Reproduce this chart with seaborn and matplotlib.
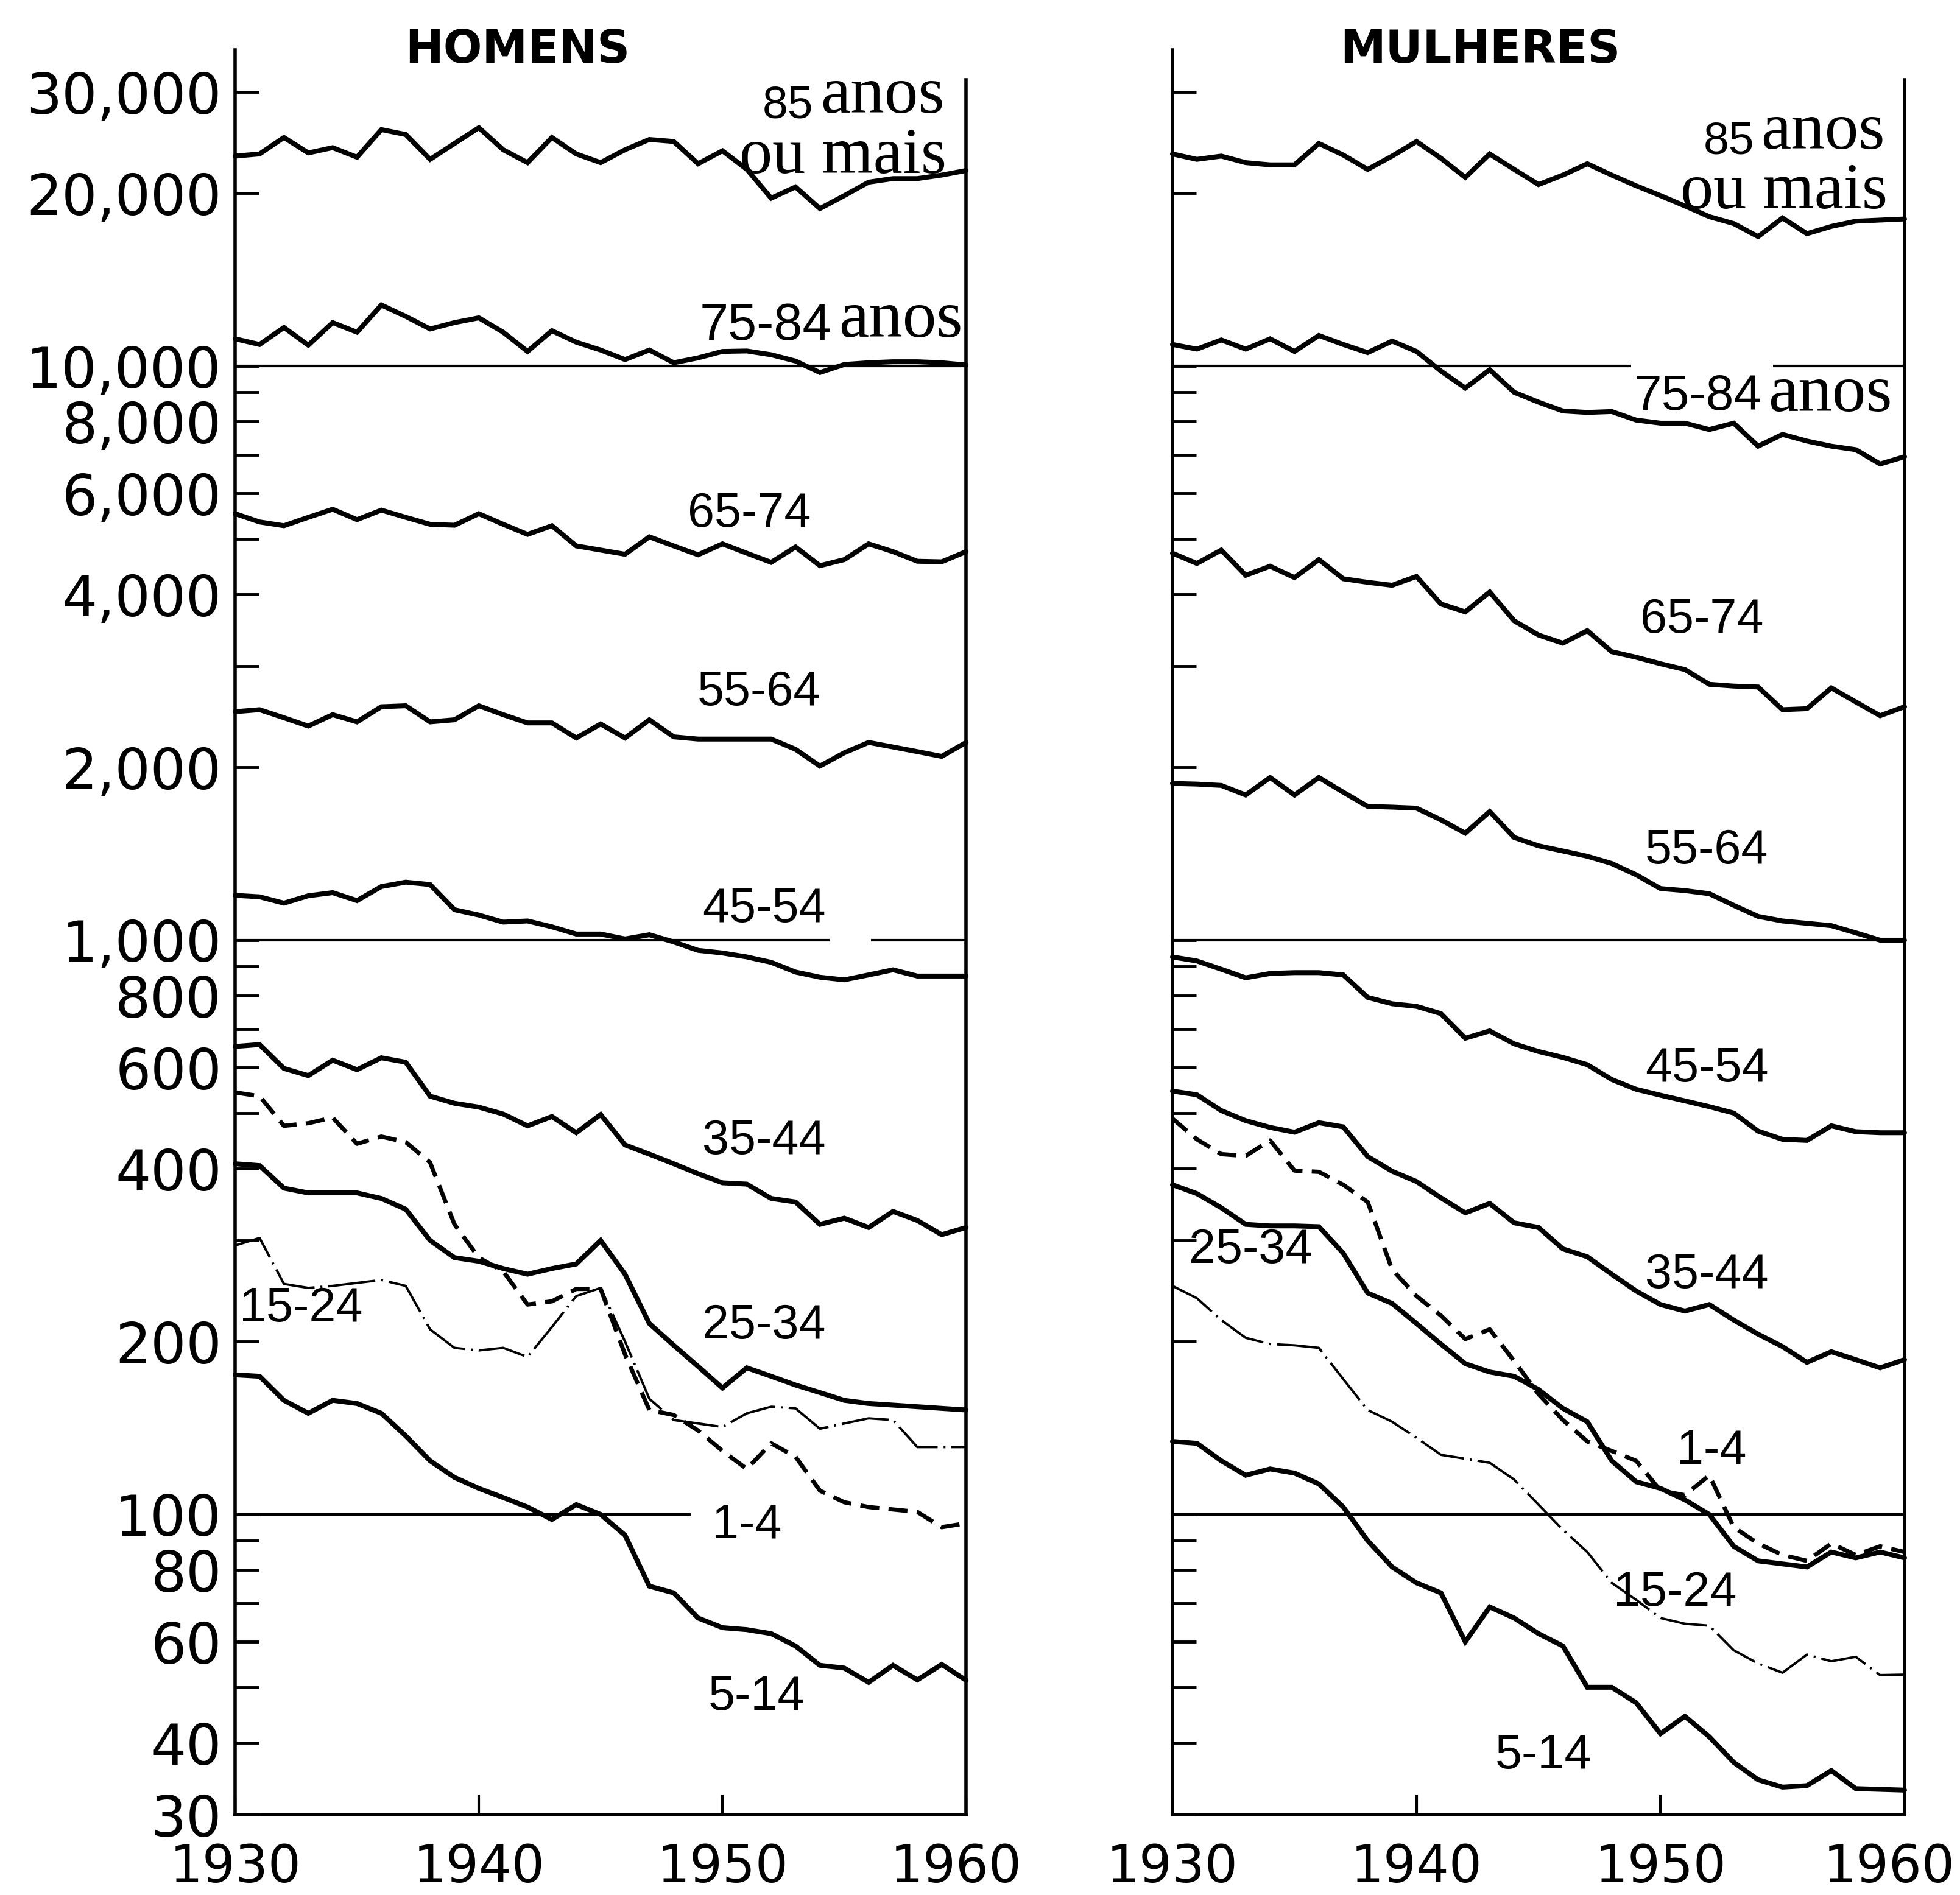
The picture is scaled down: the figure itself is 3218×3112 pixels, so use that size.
import matplotlib
matplotlib.use("Agg")
import matplotlib.pyplot as plt
import matplotlib.transforms as mtransforms
from matplotlib import font_manager
from matplotlib.ticker import FixedLocator, FixedFormatter, NullLocator
import numpy as np
import pandas as pd
import seaborn as sns

# ---------------- data ----------------
years = list(range(1930, 1961))

# HOMENS
m_85 = [23200, 23400, 25000, 23500, 24000, 23100, 25800, 25300, 22900, 24400, 26000,
        23800, 22600, 25000, 23400, 22600, 23800, 24800, 24600, 22500, 23700,
        22000, 19600, 20500, 18800, 19800, 20900, 21200, 21200, 21500, 21900]
m_75 = [11150, 10900, 11670, 10870, 11900, 11450, 12770, 12200, 11600, 11900, 12130,
        11450, 10600, 11520, 11000, 10660, 10260, 10660, 10130, 10330, 10600,
        10620, 10460, 10200, 9740, 10060, 10130, 10170, 10170, 10130, 10040]
m_65 = [5530, 5350, 5270, 5450, 5630, 5400, 5610, 5450, 5300, 5280, 5530,
        5300, 5090, 5270, 4860, 4780, 4700, 5040, 4860, 4690, 4900,
        4720, 4550, 4840, 4490, 4600, 4900, 4750, 4570, 4560, 4750]
m_55 = [2500, 2520, 2440, 2360, 2470, 2400, 2550, 2560, 2400, 2420, 2560,
        2470, 2390, 2390, 2250, 2380, 2250, 2420, 2260, 2240, 2240,
        2240, 2240, 2150, 2010, 2120, 2210, 2170, 2130, 2090, 2210]
m_45 = [1197, 1190, 1160, 1195, 1210, 1172, 1240, 1262, 1250, 1130, 1106,
        1075, 1080, 1055, 1025, 1025, 1005, 1022, 993, 960, 950,
        935, 915, 880, 862, 853, 870, 888, 866, 866, 866]
m_35 = [653, 658, 598, 581, 618, 595, 624, 613, 535, 520, 512,
        498, 475, 493, 462, 497, 440, 424, 408, 392, 378,
        376, 355, 350, 320, 328, 316, 337, 325, 307, 316]
m_25 = [408, 405, 370, 363, 363, 363, 355, 340, 300, 280, 276,
        268, 262, 268, 273, 300, 262, 215, 197, 181, 166,
        180, 174, 168, 163, 158, 156, 155, 154, 153, 152]
m_15 = [294, 303, 252, 248, 250, 253, 256, 250, 210, 195, 193,
        195, 188, 212, 240, 248, 200, 159, 146, 144, 142,
        150, 154, 153, 141, 144, 147, 146, 131, 131, 131]
m_1_4 = [543, 535, 475, 480, 491, 442, 455, 445, 410, 320, 280,
         265, 232, 235, 247, 247, 190, 152, 149, 140, 129,
         120, 133, 126, 110, 105, 103, 102, 101, 95, 96.5]
m_5_14 = [175, 174, 158, 150, 158, 156, 150, 137, 124, 116, 111,
          107, 103, 98, 104, 100, 92, 75, 73, 66, 63.5,
          63, 62, 59, 54.6, 54, 51, 54.6, 51.5, 54.8, 51.4]

# MULHERES
w_85 = [23400, 22900, 23200, 22600, 22400, 22400, 24400, 23300, 22000, 23200, 24600,
        23000, 21300, 23400, 22000, 20700, 21500, 22500, 21500, 20600, 19800,
        19000, 18200, 17700, 16800, 18100, 17000, 17500, 17870, 17950, 18030]
w_75 = [10900, 10700, 11100, 10700, 11150, 10600, 11300, 10900, 10550, 11050, 10600,
        9800, 9150, 9850, 9000, 8650, 8350, 8300, 8330, 8050, 7950,
        7950, 7750, 7950, 7250, 7600, 7400, 7250, 7150, 6750, 6950]
w_65 = [4720, 4530, 4780, 4320, 4480, 4280, 4600, 4260, 4200, 4150, 4300,
        3850, 3730, 4040, 3600, 3400, 3290, 3460, 3180, 3110, 3030,
        2960, 2790, 2770, 2760, 2520, 2530, 2750, 2600, 2460, 2550]
w_55 = [1875, 1870, 1860, 1790, 1920, 1790, 1920, 1810, 1710, 1705, 1698,
        1620, 1536, 1675, 1510, 1460, 1430, 1400, 1360, 1300, 1230,
        1220, 1205, 1150, 1100, 1080, 1070, 1060, 1030, 1000, 1000]
w_45 = [935, 920, 890, 860, 875, 878, 878, 870, 795, 775, 767,
        745, 675, 695, 660, 640, 625, 607, 572, 550, 537,
        525, 513, 500, 465, 450, 448, 475, 464, 462, 462]
w_35 = [546, 538, 505, 485, 472, 463, 481, 473, 420, 396, 380,
        356, 335, 348, 322, 316, 290, 281, 262, 245, 232,
        226, 232, 218, 206, 196, 184, 192, 186, 180, 186]
w_25 = [375, 362, 342, 320, 318, 318, 317, 285, 243, 233, 215,
        198, 183, 177, 174, 165, 153, 145, 124, 114, 111,
        106, 100, 88, 83, 82, 81, 86, 84, 86, 84]
w_15 = [250, 238, 218, 203, 198, 197, 195, 172, 152, 145, 136,
        127, 125, 123, 115, 104, 94, 86, 76, 71, 66,
        64.5, 64, 58, 55, 53, 57, 55.5, 56.5, 52.5, 52.6]
w_1_4 = [489, 450, 424, 421, 448, 397, 395, 375, 350, 267, 240,
         222, 202, 210, 185, 162, 146, 134, 129, 124, 110,
         108, 117, 95, 89, 85, 83, 89, 85, 88, 86]
w_5_14 = [134, 133, 124, 117, 120, 118, 113, 103, 90, 81, 76,
          73, 60, 69, 66, 62, 59, 50, 50, 47, 41.5,
          44.5, 41, 37, 34.5, 33.5, 33.7, 35.8, 33.3, 33.2, 33.1]

series_names = ["85+", "75-84", "65-74", "55-64", "45-54", "35-44",
                "25-34", "15-24", "1-4", "5-14"]
men_values = [m_85, m_75, m_65, m_55, m_45, m_35, m_25, m_15, m_1_4, m_5_14]
women_values = [w_85, w_75, w_65, w_55, w_45, w_35, w_25, w_15, w_1_4, w_5_14]

y_tick_values = [30, 40, 50, 60, 70, 80, 90, 100, 200, 300, 400, 500, 600, 700,
                 800, 900, 1000, 2000, 3000, 4000, 5000, 6000, 7000, 8000, 9000,
                 10000, 20000, 30000]
y_labelled = [30, 40, 60, 80, 100, 200, 400, 600, 800, 1000, 2000, 4000,
              6000, 8000, 10000, 20000, 30000]
x_tick_values = [1930, 1940, 1950, 1960]

panel_titles = ["HOMENS", "MULHERES"]

# reference (grid) lines: value, from-year, to-year
ref_left = [(10000, 1930, 1960), (1000, 1930, 1954.4), (1000, 1956.1, 1960),
            (100, 1930, 1948.7)]
ref_right = [(10000, 1930, 1948.8), (10000, 1954.6, 1960), (1000, 1930, 1960),
             (100, 1930, 1960)]

# ---------------- style ----------------
sns.set_style("white")
plt.rcParams["font.family"] = ["DejaVu Sans"]
for key in ["text.color", "axes.labelcolor", "xtick.color", "ytick.color",
            "axes.edgecolor"]:
    plt.rcParams[key] = "black"

names = {f.name for f in font_manager.fontManager.ttflist}
if "Liberation Sans Narrow" in names:
    NARROW, NARROW_SIZE = "Liberation Sans Narrow", 66
else:
    NARROW, NARROW_SIZE = "Liberation Sans", 57
SERIF = "Liberation Serif" if "Liberation Serif" in names else "DejaVu Serif"

df_rows = []
for panel, vals_list in zip(panel_titles, [men_values, women_values]):
    for name, vals in zip(series_names, vals_list):
        for yr, v in zip(years, vals):
            df_rows.append({"panel": panel, "group": name, "year": yr, "rate": v})
df = pd.DataFrame(df_rows)

def line_style(name):
    if name == "1-4":
        return dict(linewidth=5.0, linestyle=(0, (4.5, 2.2)))
    if name == "15-24":
        return dict(linewidth=2.8, linestyle=(0, (20, 2.5, 0.8, 2.5)))
    return dict(linewidth=5.8, linestyle="-")

fig = plt.figure(figsize=(32.18, 31.12), dpi=100)
axL = fig.add_axes([0.1200, 0.0424, 0.3729, 0.9312])
axR = fig.add_axes([0.5982, 0.0424, 0.3735, 0.9312])

for ax, panel, refs in [(axL, "HOMENS", ref_left), (axR, "MULHERES", ref_right)]:
    ax.set_yscale("log")
    sub = df[df["panel"] == panel]
    for name in series_names:
        d = sub[sub["group"] == name]
        sns.lineplot(data=d, x="year", y="rate", ax=ax, color="black",
                     estimator=None, legend=False, clip_on=False,
                     solid_joinstyle="miter", dash_capstyle="butt",
                     **line_style(name))
    for val, x0, x1 in refs:
        ax.hlines(val, x0, x1, colors="black", linewidth=3.0, zorder=1)
    ax.set_xlim(1930, 1960)
    ax.set_ylim(30, 35500)
    ax.set_xlabel("")
    ax.set_ylabel("")
    ax.spines["top"].set_visible(False)
    for s in ["left", "bottom", "right"]:
        ax.spines[s].set_linewidth(4)
        ax.spines[s].set_color("black")
    ax.spines["right"].set_bounds(30, 31500)
    ax.yaxis.set_major_locator(FixedLocator(y_tick_values))
    ax.yaxis.set_minor_locator(NullLocator())
    ax.xaxis.set_major_locator(FixedLocator(x_tick_values))
    ax.xaxis.set_minor_locator(NullLocator())
    ax.xaxis.set_major_formatter(FixedFormatter([str(x) for x in x_tick_values]))
    ax.tick_params(axis="y", which="major", direction="in", length=28, width=3.5,
                   labelsize=66, pad=16, left=True, right=False, colors="black")
    ax.tick_params(axis="x", which="major", direction="in", length=24, width=3,
                   labelsize=61, pad=33, bottom=True, top=False, colors="black")
    ax.set_facecolor("white")

ylabels = [f"{v:,}" if v in y_labelled else "" for v in y_tick_values]
axL.yaxis.set_major_formatter(FixedFormatter(ylabels))
axR.yaxis.set_major_formatter(FixedFormatter([""] * len(y_tick_values)))

# nudge the "1960" labels a little to the left, as in the original
for ax, shift in [(axL, -12), (axR, -18)]:
    lab = ax.get_xticklabels()[-1]
    lab.set_transform(lab.get_transform() +
                      mtransforms.ScaledTranslation(shift / 72, 0, fig.dpi_scale_trans))

# titles
for ax, title, xc in [(axL, "HOMENS", 1941.6), (axR, "MULHERES", 1942.6)]:
    tr = mtransforms.blended_transform_factory(ax.transData, ax.transAxes)
    ax.text(xc, 1.0, title, transform=tr, ha="center", va="center",
            fontsize=54, fontweight="bold", family=["DejaVu Sans"])

# compound labels with serif "anos"
def compound(ax, x, y, prefix, prefix_size, dy_pts=0, word="anos"):
    t = ax.text(x, y, word, ha="right", va="baseline", fontsize=80, family=[SERIF])
    ax.annotate(prefix, xy=(0, 0), xycoords=t, xytext=(-8, dy_pts),
                textcoords="offset points", ha="right", va="bottom",
                fontsize=prefix_size, family=[NARROW, "DejaVu Sans"])

compound(axL, 1959.1, 27600, "85", 54)
axL.text(1959.2, 21700, "ou mais", ha="right", va="baseline", fontsize=78, family=[SERIF])
compound(axL, 1959.85, 11250, "75-84", NARROW_SIZE + 4)

compound(axR, 1959.2, 23900, "85", 54)
axR.text(1959.3, 18800, "ou mais", ha="right", va="baseline", fontsize=78, family=[SERIF])
compound(axR, 1959.5, 8350, "75-84", NARROW_SIZE + 2, dy_pts=6)

left_labels = [("65-74", 1951.1, 5520), ("55-64", 1951.5, 2700), ("45-54", 1951.7, 1130),
               ("35-44", 1951.7, 446), ("25-34", 1951.7, 213), ("15-24", 1932.7, 228),
               ("1-4", 1951.0, 95.7), ("5-14", 1951.4, 48)]
right_labels = [("65-74", 1951.7, 3610), ("55-64", 1951.9, 1430), ("45-54", 1951.9, 596),
                ("35-44", 1951.9, 261), ("25-34", 1933.2, 288), ("1-4", 1952.1, 129),
                ("15-24", 1950.6, 72.8), ("5-14", 1945.2, 38)]
for ax, labs in [(axL, left_labels), (axR, right_labels)]:
    for txt, x, y in labs:
        ax.text(x, y, txt, ha="center", va="center", fontsize=NARROW_SIZE,
                family=[NARROW, "DejaVu Sans"], zorder=5)

fig.savefig("out.png", dpi=100, facecolor="white")
